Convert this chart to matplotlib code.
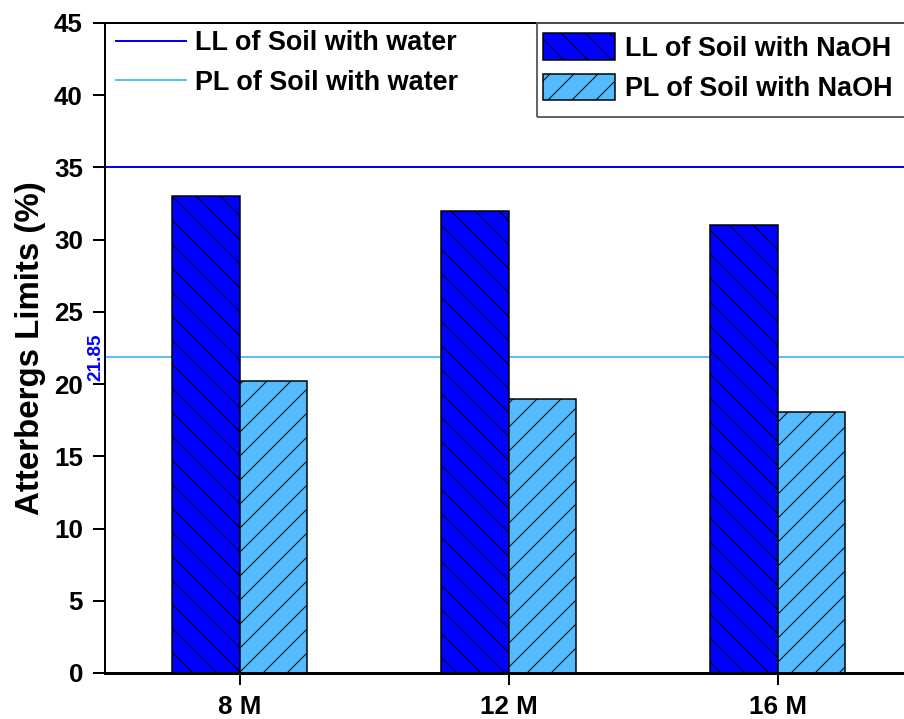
import matplotlib
matplotlib.use("Agg")
import matplotlib.pyplot as plt
from matplotlib.patches import Patch, Rectangle
from matplotlib.lines import Line2D
import numpy as np

plt.rcParams['font.family'] = ['Liberation Sans', 'DejaVu Sans']
plt.rcParams['font.weight'] = 'bold'
plt.rcParams['hatch.linewidth'] = 1.0
plt.rcParams['hatch.color'] = 'black'

# Data
categories = ['8 M', '12 M', '16 M']
ll_naoh = [33.0, 32.0, 31.0]
pl_naoh = [20.2, 19.0, 18.1]
ll_water = 35.0
pl_water = 21.85
y_ticks = [0, 5, 10, 15, 20, 25, 30, 35, 40, 45]

LL_COLOR = '#0000FF'
PL_COLOR = '#55BBFF'
LINE_PL = '#5BC0F5'

DPI = 72
W, H = 904, 719
fig = plt.figure(figsize=(W / DPI, H / DPI), dpi=DPI)
ax = fig.add_axes([105 / W, 46 / H, 1 - 105 / W, 650 / H])

x = np.arange(len(categories))
bw = 0.25
ax.bar(x - bw / 2, ll_naoh, bw, color=LL_COLOR, edgecolor='black',
       linewidth=1.5, hatch='\\', zorder=2)
ax.bar(x + bw / 2, pl_naoh, bw, color=PL_COLOR, edgecolor='black',
       linewidth=1.5, hatch='/', zorder=2)

ax.axhline(ll_water, color=LL_COLOR, linewidth=2, zorder=1)
ax.axhline(pl_water, color=LINE_PL, linewidth=2, zorder=1)
ax.text(-0.535, pl_water, f'{pl_water:.2f}', color=LL_COLOR, fontsize=19,
        rotation=90, ha='center', va='center', fontweight='bold')

ax.set_xlim(-0.5, 2.47)
ax.set_ylim(0, 45)
ax.set_yticks(y_ticks)
ax.set_xticks(x)
ax.set_xticklabels(categories)
ax.tick_params(axis='both', labelsize=26, width=2, length=12, direction='out')
ax.tick_params(axis='y', pad=10)
ax.tick_params(axis='x', pad=10)
ax.set_ylabel('Atterbergs Limits (%)', fontsize=33, fontweight='bold', labelpad=8)

for s in ['left', 'top']:
    ax.spines[s].set_linewidth(2)
ax.spines['bottom'].set_linewidth(3)
ax.spines['right'].set_visible(False)

# Legend for the reference water lines
water_handles = [Line2D([], [], color=LL_COLOR, linewidth=2),
                 Line2D([], [], color=LINE_PL, linewidth=2)]
leg1 = ax.legend(water_handles, ['LL of Soil with water', 'PL of Soil with water'],
                 loc='upper left', bbox_to_anchor=(116 / W, 1 - 30 / H),
                 bbox_transform=fig.transFigure, frameon=False, fontsize=27,
                 handlelength=2.6, handletextpad=0.33, labelspacing=0.5,
                 borderpad=0.0, borderaxespad=0)
ax.add_artist(leg1)

# Legend for the NaOH bars, with its box drawn separately
naoh_handles = [Patch(facecolor=LL_COLOR, edgecolor='black', hatch='\\', linewidth=1.5),
                Patch(facecolor=PL_COLOR, edgecolor='black', hatch='/', linewidth=1.5)]
leg2 = ax.legend(naoh_handles, ['LL of Soil with NaOH', 'PL of Soil with NaOH'],
                 loc='upper left', bbox_to_anchor=(543 / W, 1 - 33 / H),
                 bbox_transform=fig.transFigure, frameon=False, fontsize=27,
                 handlelength=2.67, handleheight=1.15, handletextpad=0.37,
                 labelspacing=0.45, borderpad=0.0, borderaxespad=0)
fig.add_artist(Rectangle((537 / W, 1 - 117 / H), 1.0, 94 / H,
                         transform=fig.transFigure, fill=False,
                         edgecolor='#555555', linewidth=1.8, zorder=5))

fig.savefig('out.png', dpi=DPI)
